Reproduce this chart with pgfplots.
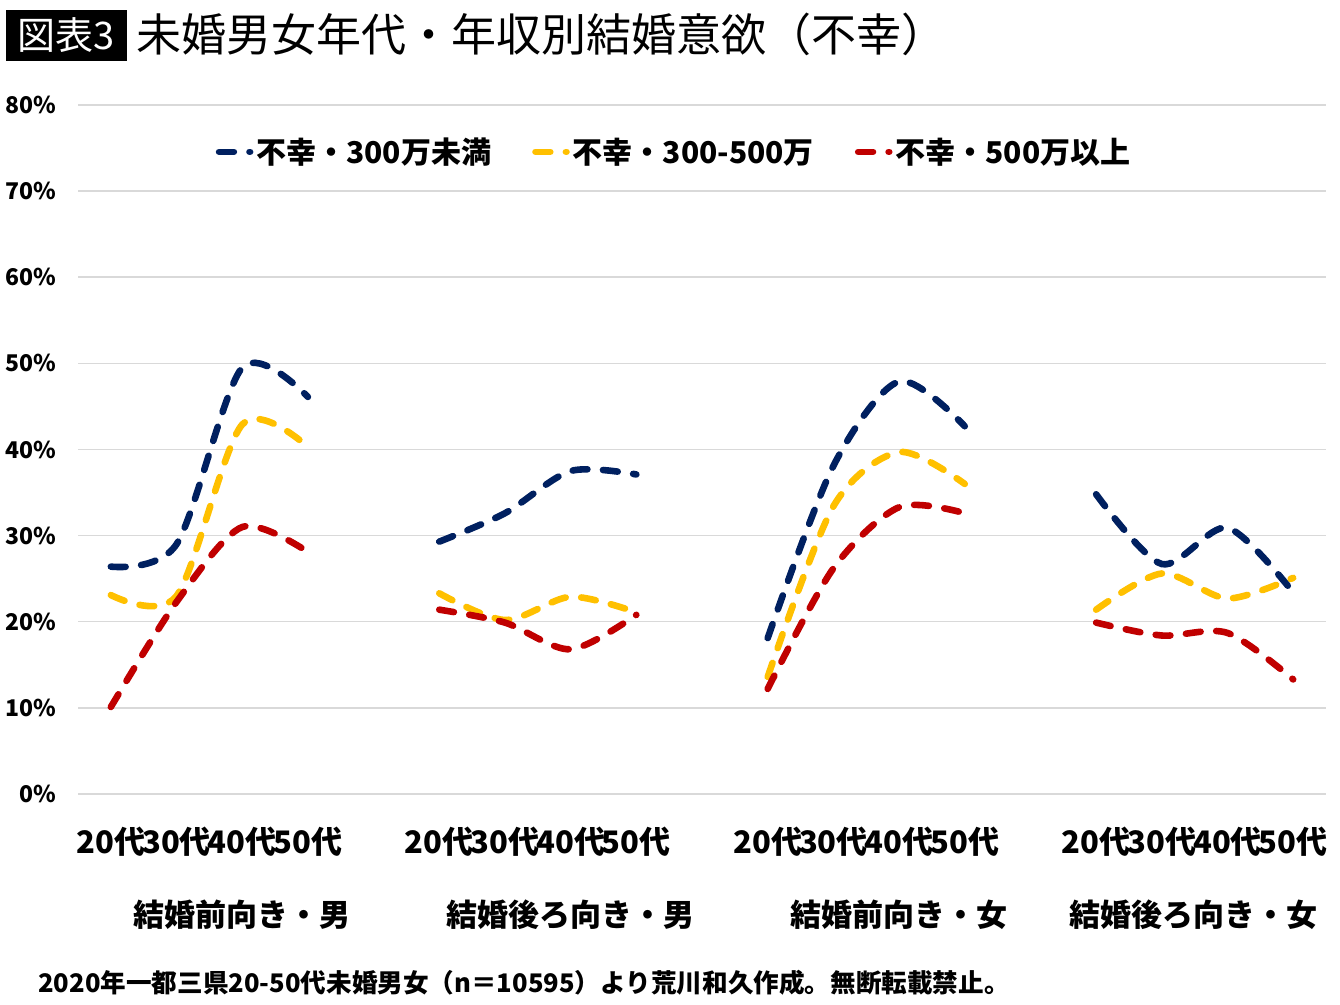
\documentclass[border=0pt]{standalone}
\usepackage{fontspec}
\setmainfont{Noto Sans CJK JP}
\usepackage{pgfplots}
\pgfplotsset{compat=1.18}
\definecolor{cblue}{HTML}{002060}
\definecolor{cyel}{HTML}{FFC000}
\definecolor{cred}{HTML}{C00000}
\definecolor{cgrid}{HTML}{D9D9D9}
\begin{document}
\begin{tikzpicture}[x=1bp,y=1bp]
\path[use as bounding box] (0,0) rectangle (670,502.5);
\fill[black] (3,472) rectangle (63.5,497.5);
\node[text=white, inner sep=0pt, font=\fontsize{19bp}{19bp}\selectfont] at (33.25,484.75) {図表3};
\node[anchor=west, inner sep=0pt, font=\fontsize{22.5bp}{22.5bp}\selectfont] at (68,485.5) {未婚男女年代・年収別結婚意欲（不幸）};
\node[anchor=west, inner sep=0pt, font=\bfseries\fontsize{12.8bp}{12.8bp}\selectfont] at (19,11) {2020年一都三県20-50代未婚男女（n＝10595）より荒川和久作成。無断転載禁止。};
\begin{axis}[
  at={(39bp,105.5bp)}, anchor=south west,
  scale only axis, width=624bp, height=344.5bp,
  xmin=-0.5, xmax=18.5, ymin=0, ymax=80,
  axis line style={draw=none},
  major tick length=0pt,
  ymajorgrids,
  major grid style={color=cgrid, line width=0.75bp},
  ytick={0,10,...,80},
  yticklabels={0\%,10\%,20\%,30\%,40\%,50\%,60\%,70\%,80\%},
  yticklabel style={anchor=east, inner sep=0pt, xshift=-10.5bp, font=\bfseries\fontsize{11.5bp}{11.5bp}\selectfont},
  xtick={0,...,18},
  xticklabels={20代,30代,40代,50代,{},20代,30代,40代,50代,{},20代,30代,40代,50代,{},20代,30代,40代,50代},
  xticklabel style={anchor=center, inner sep=0pt, yshift=-24bp, font=\bfseries\fontsize{15.5bp}{15.5bp}\selectfont},
  clip=false,
  unbounded coords=jump,
  legend columns=3,
  legend style={at={(0.478,0.932)}, anchor=center, draw=none, fill=none,
    font=\bfseries\fontsize{15bp}{15bp}\selectfont,
    nodes={inner sep=1.5bp},
    /tikz/every even column/.append style={column sep=19bp}},
  legend image code/.code={\draw[#1] (0bp,0bp) -- (15.5bp,0bp);},
  every axis plot/.append style={line width=3.3bp, line cap=round, dash pattern=on 7.4bp off 7.8bp, smooth},
]
\addplot[cblue] coordinates {
 (0,26.4) (1,29.0) (2,49.5) (3,46.1) (4,nan)
 (5,29.3) (6,32.6) (7,37.5) (8,37.1) (9,nan)
 (10,18.1) (11,38.1) (12,47.9) (13,42.7) (14,nan)
 (15,34.8) (16,26.7) (17,30.9) (18,23.4)};
\addlegendentry{不幸・300万未満}
\addplot[cyel] coordinates {
 (0,23.1) (1,23.0) (2,42.9) (3,40.3) (4,nan)
 (5,23.3) (6,20.2) (7,22.9) (8,21.1) (9,nan)
 (10,13.6) (11,33.4) (12,39.7) (13,36.0) (14,nan)
 (15,21.4) (16,25.6) (17,22.7) (18,25.1)};
\addlegendentry{不幸・300-500万}
\addplot[cred] coordinates {
 (0,10.1) (1,22.3) (2,31.0) (3,28.1) (4,nan)
 (5,21.4) (6,19.9) (7,16.8) (8,20.8) (9,nan)
 (10,12.2) (11,26.2) (12,33.3) (13,32.6) (14,nan)
 (15,19.9) (16,18.4) (17,18.7) (18,13.3)};
\addlegendentry{不幸・500万以上}
\node[inner sep=0pt, font=\bfseries\fontsize{15.5bp}{15.5bp}\selectfont] at (axis cs:2,0) [yshift=-60.5bp] {結婚前向き・男};
\node[inner sep=0pt, font=\bfseries\fontsize{15.5bp}{15.5bp}\selectfont] at (axis cs:7,0) [yshift=-60.5bp] {結婚後ろ向き・男};
\node[inner sep=0pt, font=\bfseries\fontsize{15.5bp}{15.5bp}\selectfont] at (axis cs:12,0) [yshift=-60.5bp] {結婚前向き・女};
\node[inner sep=0pt, font=\bfseries\fontsize{15.5bp}{15.5bp}\selectfont] at (axis cs:16.48,0) [yshift=-60.5bp] {結婚後ろ向き・女};
\end{axis}
\end{tikzpicture}
\end{document}
